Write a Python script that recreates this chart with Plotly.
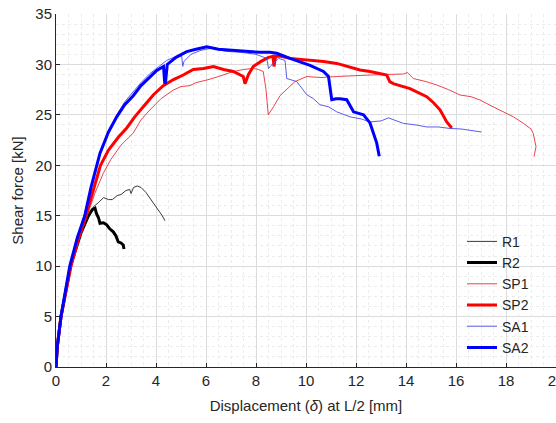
import plotly.graph_objects as go

# ---- data ----
R1_x = [0, 0.05, 0.2, 0.58, 1.0, 1.3, 1.5, 1.7, 1.9, 2.1, 2.25, 2.45, 2.6, 2.8, 2.95, 3.0, 3.1, 3.25, 3.4, 3.6, 3.8, 3.95, 4.1, 4.25, 4.36]
R1_y = [0, 2, 5, 10, 13.4, 15.0, 15.9, 16.3, 16.8, 16.6, 16.6, 17.0, 17.1, 17.5, 17.6, 17.2, 17.8, 17.95, 17.8, 17.3, 16.6, 16.0, 15.6, 15.0, 14.5]

R2_x = [0, 0.05, 0.2, 0.58, 1.0, 1.3, 1.45, 1.56, 1.62, 1.7, 1.76, 1.9, 2.03, 2.15, 2.29, 2.4, 2.49, 2.6, 2.69, 2.72]
R2_y = [0, 2, 5, 10, 13.3, 15.0, 15.6, 15.75, 15.2, 14.8, 14.25, 14.3, 14.1, 13.7, 13.4, 13.0, 12.4, 12.3, 12.1, 11.7]

SP1_x = [0, 0.05, 0.2, 0.62, 0.95, 1.25, 1.55, 1.89, 2.2, 2.6, 3.09, 3.4, 3.76, 4.2, 4.69, 5.0, 5.36, 5.6, 6.03, 6.5, 7.09, 7.5, 7.89, 8.1, 8.29, 8.4, 8.49, 8.7, 8.96, 9.3, 9.56, 10.03, 10.6, 11.23, 11.9, 12.56, 13.2, 13.9, 14.05, 14.3, 14.8, 15.23, 15.7, 16.16, 16.6, 16.96, 17.4, 17.9, 18.3, 18.7, 19.0, 19.09, 19.2, 19.12]
SP1_y = [0, 2, 5, 10, 12.8, 15, 17.2, 19.2, 20.6, 22.0, 23.2, 24.5, 25.5, 26.6, 27.46, 27.8, 27.9, 28.2, 28.45, 28.8, 29.3, 29.5, 29.6, 29.5, 29.3, 27.5, 25.0, 25.8, 26.9, 27.7, 28.3, 28.8, 28.7, 28.8, 28.9, 28.95, 29.0, 29.05, 29.2, 28.6, 28.3, 27.96, 27.5, 26.97, 26.8, 26.47, 25.9, 25.3, 24.8, 24.15, 23.6, 23.16, 21.84, 20.85]

SP2_x = [0, 0.05, 0.2, 0.6, 0.9, 1.2, 1.5, 1.78, 2.1, 2.5, 2.83, 3.15, 3.49, 3.9, 4.29, 4.7, 5.09, 5.49, 5.9, 6.3, 6.7, 7.09, 7.49, 7.56, 7.7, 7.89, 8.2, 8.5, 8.68, 8.72, 8.78, 9.0, 9.36, 10.16, 10.7, 11.23, 11.7, 12.16, 12.56, 13.0, 13.23, 13.35, 13.49, 14.16, 14.83, 15.1, 15.36, 15.63, 15.83]
SP2_y = [0, 2, 5, 10, 12.8, 15, 17.6, 20.0, 21.5, 22.8, 23.7, 24.8, 25.8, 27.0, 27.9, 28.5, 28.95, 29.5, 29.6, 29.8, 29.5, 29.3, 28.8, 28.1, 29.0, 29.8, 30.3, 30.7, 30.8, 29.8, 30.8, 30.8, 30.6, 30.44, 30.3, 30.1, 29.8, 29.45, 29.3, 29.1, 28.95, 28.3, 28.1, 27.6, 26.8, 26.2, 25.5, 24.3, 23.7]

SA1_x = [0, 0.05, 0.2, 0.55, 0.85, 1.12, 1.4, 1.76, 2.1, 2.43, 2.75, 3.09, 3.4, 3.76, 4.1, 4.43, 4.8, 5.03, 5.07, 5.12, 5.4, 5.8, 6.2, 6.8, 7.4, 8.0, 8.43, 8.5, 8.6, 8.9, 9.16, 9.23, 9.63, 10.03, 10.3, 10.56, 10.9, 11.23, 11.76, 12.2, 12.56, 13.0, 13.3, 13.6, 13.9, 14.4, 14.83, 15.3, 15.76, 16.2, 16.56, 17.03]
SA1_y = [0, 2, 5, 10, 12.9, 15, 17.9, 21.3, 23.4, 25.0, 26.3, 27.3, 28.2, 29.1, 29.8, 30.4, 30.8, 30.8, 29.8, 30.3, 31.0, 31.4, 31.6, 31.3, 31.2, 31.0, 30.6, 29.6, 29.9, 30.6, 30.4, 28.6, 28.3, 27.0, 26.6, 26.0, 25.8, 25.3, 24.8, 24.6, 24.3, 24.4, 24.7, 24.4, 24.15, 24.0, 23.8, 23.8, 23.65, 23.6, 23.5, 23.3]

SA2_x = [0, 0.05, 0.2, 0.55, 0.85, 1.15, 1.4, 1.76, 2.1, 2.43, 2.75, 3.09, 3.4, 3.76, 4.03, 4.3, 4.35, 4.38, 4.45, 4.8, 5.23, 5.6, 6.03, 6.5, 7.0, 7.5, 8.16, 8.56, 8.83, 9.36, 10.16, 10.7, 10.9, 11.03, 11.2, 11.36, 11.63, 11.9, 12.3, 12.56, 12.83, 12.93]
SA2_y = [0, 2, 5, 10, 12.8, 15, 17.8, 21.2, 23.3, 24.8, 26.0, 26.9, 27.9, 28.8, 29.4, 29.8, 28.1, 28.2, 30.0, 30.7, 31.27, 31.5, 31.76, 31.5, 31.4, 31.3, 31.2, 31.2, 31.1, 30.6, 29.9, 29.3, 28.8, 26.5, 26.6, 26.6, 26.5, 25.3, 25.0, 24.2, 22.2, 20.9]

x_ticks = [0, 2, 4, 6, 8, 10, 12, 14, 16, 18, 20]
y_ticks = [0, 5, 10, 15, 20, 25, 30, 35]

series = [
    ("R1", R1_x, R1_y, "#3a3a3a", 1.0),
    ("R2", R2_x, R2_y, "#000000", 3.0),
    ("SP1", SP1_x, SP1_y, "#e8303a", 0.9),
    ("SP2", SP2_x, SP2_y, "#ff0000", 3.0),
    ("SA1", SA1_x, SA1_y, "#4848ee", 0.9),
    ("SA2", SA2_x, SA2_y, "#0000ff", 3.0),
]

fig = go.Figure()
for name, xs, ys, col, w in series:
    fig.add_trace(go.Scatter(x=xs, y=ys, mode="lines", name=name,
                             line=dict(color=col, width=w)))

FAM = "Liberation Sans, Arial, sans-serif"
TXT = "#262626"

fig.update_layout(
    width=556, height=423,
    margin=dict(l=56, r=0, t=14, b=56),
    paper_bgcolor="white", plot_bgcolor="white",
    font=dict(family=FAM, size=15, color=TXT),
    showlegend=True,
    legend=dict(x=0.812, y=0.40, xanchor="left", yanchor="top",
                bgcolor="rgba(0,0,0,0)", borderwidth=0,
                font=dict(family=FAM, size=14, color=TXT),
                tracegroupgap=0, itemwidth=30),
)

fig.update_xaxes(
    range=[0, 20], tickvals=x_ticks, ticktext=[str(v) for v in x_ticks],
    automargin=False, ticklabeloverflow="allow",
    showgrid=True, gridcolor="#dcdcdc", gridwidth=1,
    minor=dict(dtick=0.5, showgrid=True, gridcolor="#ececec", griddash="dot",
               ticks=""),
    showline=True, linecolor=TXT, linewidth=1,
    ticks="inside", ticklen=4, tickcolor=TXT,
    zeroline=False,
    title=dict(text="Displacement (<i>δ</i>) at L/2 [mm]", standoff=12,
               font=dict(size=15, color=TXT)),
    tickfont=dict(size=15, color=TXT),
)
fig.update_yaxes(
    range=[0, 35], tickvals=y_ticks, ticktext=[str(v) for v in y_ticks],
    automargin=False, ticklabeloverflow="allow",
    showgrid=True, gridcolor="#dcdcdc", gridwidth=1,
    minor=dict(dtick=1, showgrid=True, gridcolor="#ececec", griddash="dot",
               ticks=""),
    showline=True, linecolor=TXT, linewidth=1,
    ticks="inside", ticklen=4, tickcolor=TXT,
    zeroline=False,
    title=dict(text="Shear force [kN]", standoff=8,
               font=dict(size=15, color=TXT)),
    tickfont=dict(size=15, color=TXT),
)

# remove the default 8px page margin so the figure sits at the window origin
fig.write_html("out.html", config={"displayModeBar": False},
               post_script="document.body.style.margin='0px';")
